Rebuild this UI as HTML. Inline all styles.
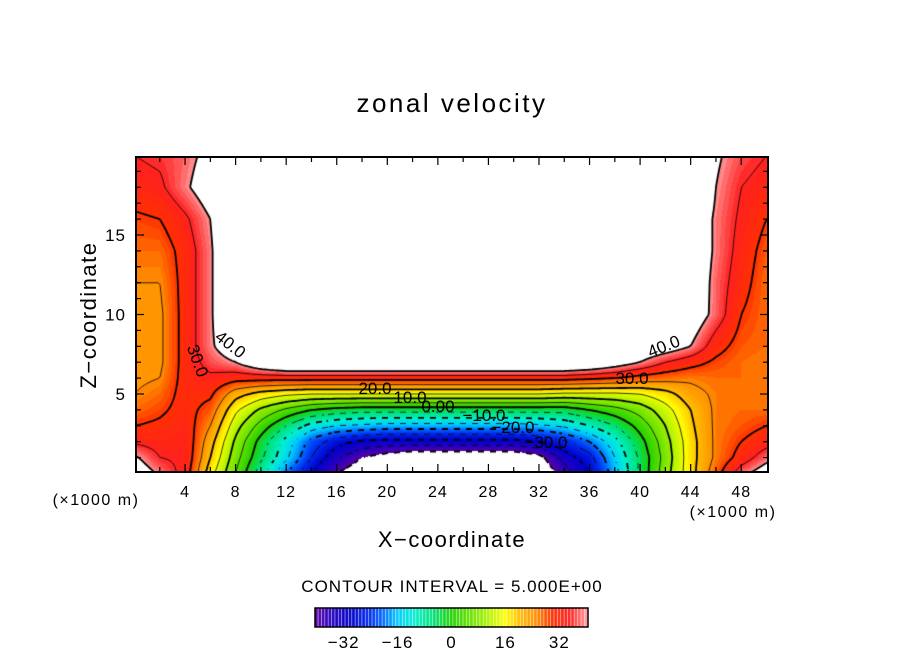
<!DOCTYPE html>
<html><head><meta charset="utf-8"><style>
html,body{margin:0;padding:0;background:#fff;}
#wrap{position:relative;width:904px;height:654px;overflow:hidden;font-family:"Liberation Sans","DejaVu Sans",sans-serif;}
canvas{position:absolute;left:0;top:0;}
svg{position:absolute;left:0;top:0;}
</style></head><body>
<div id="wrap">
<canvas id="cv" width="904" height="654"></canvas>
<svg id="sv" width="904" height="654"></svg>
</div>
<script>
// ---- data ----
const xLevels = [0,2,4,6,8,10,12,14,16,18,20,22,24,26,28,30,32,34,36,38,40,42,44,46,48,50];
const zLevels = [0,1,2,3,4,5,6,7,8,10,12,14,16,18,20];
const row_z0  = [45,39,33,17,5,-8,-20,-30,-40,-45,-45,-45,-45,-45,-45,-45,-45,-38,-30,-17,-4,8,18,28,38,44];
const row_z1  = [41,35,34,20,7,-4,-14,-25,-34,-40,-43,-45,-45,-45,-45,-45,-42,-33,-27,-15,-4,7,18,26,32,38];
const row_z2  = [34,33,34,22,9,-2,-12,-22,-28,-31,-32,-32,-32,-32,-32,-32,-30,-26,-20,-12,-2,8,18,26,30,33];
const row_z3  = [30,31,33,25,12,3,-5,-12,-15,-16,-17,-17,-17,-17,-17,-17,-16,-14,-10,-5,2,10,19,26,28,30];
const row_z4  = [27,29,32,28,16,9,4,0,-2,-3,-3,-3,-3,-3,-3,-3,-3,-3,0,3,7,13,20,26,27,27];
const row_z5  = [25,27,32,31,22,18,16,15,15,15,15,15,15,15,15,15,15,14,14,14,15,18,23,26,27,26];
const row_z6  = [24,25,32,34,32,32,32,32,32,32,32,32,32,32,32,32,32,32,31,30,28,27,26,27,27,26];
const row_z7  = [24,24,32,37,40,46,50,50,50,50,50,50,50,50,50,50,50,50,48,44,40,35,32,29,27,26];
const row_z8  = [24,24,32,39,45,50,50,50,50,50,50,50,50,50,50,50,50,50,50,50,46,44,40,32,28,27];
const row_z10 = [24,24,32,39,50,50,50,50,50,50,50,50,50,50,50,50,50,50,50,50,50,48,45,38,30,27];
const row_z12 = [25,25,32,39,50,50,50,50,50,50,50,50,50,50,50,50,50,50,50,50,50,50,46,38,32,27];
const row_z14 = [27,27,32,39,50,50,50,50,50,50,50,50,50,50,50,50,50,50,50,50,50,50,46,39,33,28];
const row_z16 = [29,30,34,40,50,50,50,50,50,50,50,50,50,50,50,50,50,50,50,50,50,50,46,39,34,30];
const row_z18 = [33,34,39,44,50,50,50,50,50,50,50,50,50,50,50,50,50,50,50,50,50,50,50,40,35,33];
const row_z20 = [35,36,38,42,50,50,50,50,50,50,50,50,50,50,50,50,50,50,50,50,50,50,50,41,37,35];
const grid = [row_z0,row_z1,row_z2,row_z3,row_z4,row_z5,row_z6,row_z7,row_z8,row_z10,row_z12,row_z14,row_z16,row_z18,row_z20];
const xTicks = [4,8,12,16,20,24,28,32,36,40,44,48];
const zTicks = [5,10,15];
const cbTicks = [-32,-16,0,16,32];
const contourLevels = [-40,-35,-30,-25,-20,-15,-10,-5,0,5,10,15,20,25,30,35,40];
const labels = [
 {t:"40.0",x:230,y:350,r:38},{t:"30.0",x:197,y:366,r:70},{t:"20.0",x:375,y:394,r:0},
 {t:"10.0",x:410,y:403,r:0},{t:"0.00",x:438,y:412,r:0},{t:"-10.0",x:484,y:421,r:0},
 {t:"-20.0",x:513,y:433,r:0},{t:"-30.0",x:546,y:448,r:0},{t:"40.0",x:664,y:352,r:-22},
 {t:"30.0",x:632,y:384,r:0}];

// ---- geometry ----
const PL=136,PR=768,PT=157,PB=472;
const sx = x => 134.5 + x*12.64;
const sz = z => 473.5 - z*15.9;
const ix = px => (px-134.5)/12.64;
const iz = py => (473.5-py)/15.9;

function findIdx(arr,v){
  if(v<=arr[0]) return [0,0];
  for(let i=0;i<arr.length-1;i++){ if(v<=arr[i+1]) return [i,(v-arr[i])/(arr[i+1]-arr[i])]; }
  return [arr.length-2,1];
}
function val(x,z){
  const [i,fx]=findIdx(xLevels,x), [j,fz]=findIdx(zLevels,z);
  const a=grid[j][i],b=grid[j][i+1],c=grid[j+1][i],d=grid[j+1][i+1];
  return (a*(1-fx)+b*fx)*(1-fz)+(c*(1-fx)+d*fx)*fz;
}
const stops=[[-40,[90,0,160]],[-36,[40,0,190]],[-30,[0,0,200]],[-24,[0,48,240]],[-20,[0,112,255]],
 [-16,[0,200,255]],[-11,[0,240,210]],[-5,[0,224,112]],[0,[32,208,0]],[5,[96,224,0]],[10,[160,240,0]],
 [16,[255,255,0]],[20,[255,192,0]],[25,[255,144,0]],[30,[255,48,0]],[35,[255,32,32]],[38,[255,96,96]],[40,[255,150,150]]];
function cmap(v){
  v=Math.max(-40,Math.min(40,v));
  for(let k=0;k<stops.length-1;k++){
    const [a,ca]=stops[k],[b,cb]=stops[k+1];
    if(v<=b){const f=(v-a)/(b-a);return ca.map((c,i)=>Math.round(c+(cb[i]-c)*f));}
  }
  return stops[stops.length-1][1];
}
const cv=document.getElementById('cv'),ctx=cv.getContext('2d');
const img=ctx.createImageData(PR-PL,PB-PT);
for(let py=PT;py<PB;py++)for(let px=PL;px<PR;px++){
  const v=val(ix(px+0.5),iz(py+0.5));
  let c=[255,255,255];
  if(v<=40&&v>=-40){c=cmap(Math.floor(v)+0.5);}
  const o=((py-PT)*(PR-PL)+(px-PL))*4;
  img.data[o]=c[0];img.data[o+1]=c[1];img.data[o+2]=c[2];img.data[o+3]=255;
}
ctx.putImageData(img,PL,PT);

// contours (marching squares)
const S=2;
ctx.save();ctx.beginPath();ctx.rect(PL,PT,PR-PL,PB-PT);ctx.clip();
const nx=Math.ceil((PR-PL)/S)+1,ny=Math.ceil((PB-PT)/S)+1;
const F=[];for(let j=0;j<ny;j++){F.push([]);for(let i=0;i<nx;i++)F[j].push(val(ix(PL+i*S),iz(PT+j*S)));}
contourLevels.forEach(L=>{
  ctx.beginPath();
  ctx.lineWidth=(L%10===0)?1.8:0.8;ctx.strokeStyle='#000';
  for(let j=0;j<ny-1;j++)for(let i=0;i<nx-1;i++){
    if(L<0 && ((Math.floor(i/3)+Math.floor(j/3))%2===1)) continue;
    const p=[[i,j,F[j][i]],[i+1,j,F[j][i+1]],[i+1,j+1,F[j+1][i+1]],[i,j+1,F[j+1][i]]];
    const pts=[];
    for(let k=0;k<4;k++){const a=p[k],b=p[(k+1)%4];
      if((a[2]<L)!==(b[2]<L)){const t=(L-a[2])/(b[2]-a[2]);pts.push([PL+(a[0]+(b[0]-a[0])*t)*S,PT+(a[1]+(b[1]-a[1])*t)*S]);}}
    if(pts.length>=2){ctx.moveTo(pts[0][0],pts[0][1]);ctx.lineTo(pts[1][0],pts[1][1]);}
    if(pts.length===4){ctx.moveTo(pts[2][0],pts[2][1]);ctx.lineTo(pts[3][0],pts[3][1]);}
  }
  ctx.stroke();
});
ctx.restore();

// colorbar
const CBL=315,CBR=588,CBT=608,CBB=627;
const cbv = v => CBL + (v+40.5)/81*(CBR-CBL);
for(let v=-40;v<=40;v++){
  const c=cmap(v);ctx.fillStyle=`rgb(${c[0]},${c[1]},${c[2]})`;
  ctx.fillRect(cbv(v-0.5),CBT,cbv(v+0.5)-cbv(v-0.5)-0.6,CBB-CBT);
}

// ---- svg overlay ----
const NS='http://www.w3.org/2000/svg',sv=document.getElementById('sv');
function el(tag,attrs,parent){const e=document.createElementNS(NS,tag);for(const k in attrs)e.setAttribute(k,attrs[k]);(parent||sv).appendChild(e);return e;}
function txt(s,x,y,size,anchor,name,extra){
  const t=el('text',Object.assign({x:x,y:y,'font-size':size,'text-anchor':anchor||'middle','font-family':'"Liberation Sans","DejaVu Sans",sans-serif',fill:'#000'},extra||{}));
  t.textContent=s;
  
  
  return t;
}
const frame=el('rect',{x:PL,y:PT,width:PR-PL,height:PB-PT,fill:'none',stroke:'#000','stroke-width':2});


const tg=el('g',{stroke:'#000','stroke-width':1.2});


for(let x=2;x<50;x+=2){const len=(x%4===0)?8:5;const X=sx(x);
  el('line',{x1:X,y1:PB,x2:X,y2:PB-len},tg);el('line',{x1:X,y1:PT,x2:X,y2:PT+len},tg);}
for(let z=1;z<20;z++){const len=(z%5===0)?8:5;const Y=sz(z);
  el('line',{x1:PL,y1:Y,x2:PL+len,y2:Y},tg);el('line',{x1:PR,y1:Y,x2:PR-len,y2:Y},tg);}
xTicks.forEach(x=>txt(String(x),sx(x),497,16,'middle','x-tick-label',{'letter-spacing':1}));
zTicks.forEach(z=>txt(String(z),126,sz(z)+6,17,'end','z-tick-label',{'letter-spacing':1}));
labels.forEach(l=>txt(l.t.replace('-','\u2212'),l.x,l.y,17,'middle','contour-label',{transform:`rotate(${l.r} ${l.x} ${l.y-5})`}));
txt('zonal velocity',452,112,26,'middle','chart-title',{'letter-spacing':2.5});
txt('Z\u2212coordinate',96,315,22,'middle','z-axis-title',{transform:'rotate(-90 96 315)','letter-spacing':1.5});
txt('X\u2212coordinate',452,547,22,'middle','x-axis-title',{'letter-spacing':1.5});
txt('(\u00d71000 m)',96,505,16,'middle','x-unit-left',{'letter-spacing':1.5});
txt('(\u00d71000 m)',733,517,16,'middle','x-unit-right',{'letter-spacing':1.5});
txt('CONTOUR INTERVAL = 5.000E+00',452,592,17,'middle','contour-interval',{'letter-spacing':1});
const cbf=el('rect',{x:CBL,y:CBT,width:CBR-CBL,height:CBB-CBT,fill:'none',stroke:'#000','stroke-width':1.5});


cbTicks.forEach(v=>txt(String(v).replace('-','\u2212'),cbv(v),648,17,'middle','colorbar-tick-label',{'letter-spacing':1}));
</script>
</body></html>
